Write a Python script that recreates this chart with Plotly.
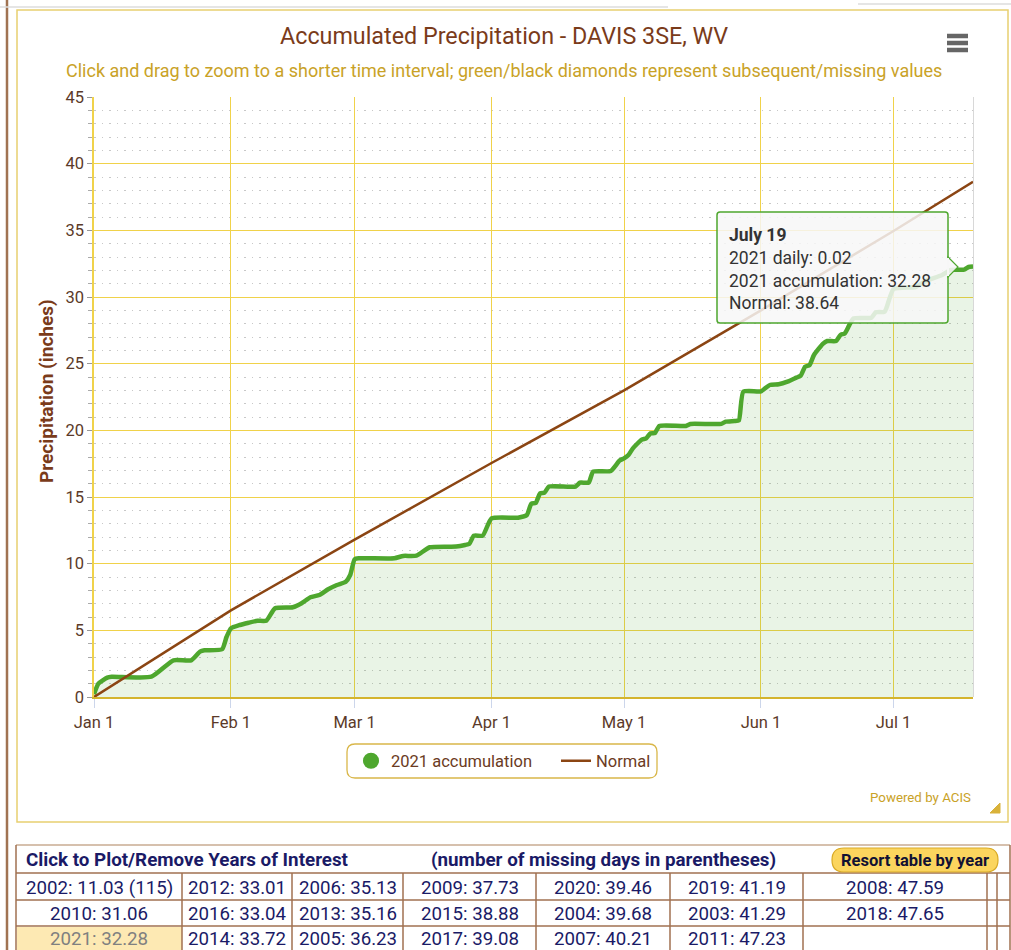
import plotly.graph_objects as go

W, H = 1011, 950

# 2021 accumulation (inches) at its break points
acc_dates = [
    "2021-01-01", "2021-01-02", "2021-01-04", "2021-01-05", "2021-01-14", "2021-01-19",
    "2021-01-23", "2021-01-25", "2021-01-26", "2021-01-30", "2021-01-31", "2021-02-01",
    "2021-02-03", "2021-02-05", "2021-02-07", "2021-02-09", "2021-02-11", "2021-02-15",
    "2021-02-17", "2021-02-19", "2021-02-21", "2021-02-23", "2021-02-25", "2021-02-27",
    "2021-02-28", "2021-03-01", "2021-03-02", "2021-03-10", "2021-03-12", "2021-03-15",
    "2021-03-18", "2021-03-24", "2021-03-26", "2021-03-27", "2021-03-28", "2021-03-30",
    "2021-04-01", "2021-04-07", "2021-04-09", "2021-04-10", "2021-04-11", "2021-04-12",
    "2021-04-13", "2021-04-14", "2021-04-20", "2021-04-21", "2021-04-23", "2021-04-24",
    "2021-04-28", "2021-04-30", "2021-05-01", "2021-05-02", "2021-05-03", "2021-05-05",
    "2021-05-06", "2021-05-07", "2021-05-08", "2021-05-09", "2021-05-15", "2021-05-16",
    "2021-05-23", "2021-05-24", "2021-05-26", "2021-05-27", "2021-05-28", "2021-06-01",
    "2021-06-03", "2021-06-05", "2021-06-07", "2021-06-09", "2021-06-10", "2021-06-11",
    "2021-06-12", "2021-06-13", "2021-06-15", "2021-06-16", "2021-06-18", "2021-06-19",
    "2021-06-20", "2021-06-21", "2021-06-22", "2021-06-26", "2021-06-27", "2021-06-29",
    "2021-07-01", "2021-07-06", "2021-07-08", "2021-07-12", "2021-07-14", "2021-07-17",
    "2021-07-18", "2021-07-19",
]
acc_values = [
    0.20, 1.00, 1.45, 1.52, 1.52, 2.75,
    2.75, 3.40, 3.50, 3.58, 4.50, 5.15,
    5.40, 5.57, 5.72, 5.72, 6.65, 6.73,
    7.03, 7.48, 7.65, 8.08, 8.40, 8.65,
    9.15, 10.33, 10.40, 10.40, 10.58, 10.60,
    11.23, 11.28, 11.40, 11.50, 12.10, 12.10,
    13.40, 13.45, 13.65, 14.50, 14.55, 15.28,
    15.33, 15.78, 15.78, 16.08, 16.08, 16.90,
    16.95, 17.73, 17.90, 18.15, 18.65, 19.30,
    19.40, 19.78, 19.80, 20.33, 20.33, 20.48,
    20.48, 20.65, 20.70, 20.75, 22.90, 22.93,
    23.40, 23.45, 23.65, 23.95, 24.10, 24.78,
    24.90, 25.65, 26.48, 26.70, 26.70, 27.15,
    27.28, 27.90, 28.40, 28.45, 28.85, 28.90,
    30.60, 30.75, 31.15, 31.65, 32.03, 32.05,
    32.25, 32.28,
]

# normal accumulation (inches)
normal_dates = ["2021-01-01", "2021-02-01", "2021-03-01", "2021-04-01",
                "2021-05-01", "2021-06-01", "2021-07-01", "2021-07-19"]
normal_values = [0.0, 6.50, 11.80, 17.55, 23.00, 29.00, 34.95, 38.64]

month_ticks = ["2021-01-01", "2021-02-01", "2021-03-01", "2021-04-01",
               "2021-05-01", "2021-06-01", "2021-07-01"]
month_labels = ["Jan 1", "Feb 1", "Mar 1", "Apr 1", "May 1", "Jun 1", "Jul 1"]

# table of Jan 1 - Jul 19 totals, sorted by value
rank_years = [2002, 2010, 2021, 2012, 2016, 2014, 2006, 2013, 2005, 2009,
              2015, 2017, 2020, 2004, 2007, 2019, 2003, 2011, 2008, 2018]
rank_totals = [11.03, 31.06, 32.28, 33.01, 33.04, 33.72, 35.13, 35.16, 36.23, 37.73,
               38.88, 39.08, 39.46, 39.68, 40.21, 41.19, 41.29, 47.23, 47.59, 47.65]
missing_days = {2002: 115}

GREEN = "#4ea72e"
BROWN = "#8b4513"
GOLD = "#f0d24a"
NAVY = "#1a1a66"
TXT = "#5b3a29"


def px(x):
    return x / W


def py(y):
    return 1 - y / H


def rounded_rect(x0, y0, x1, y1, r):
    """SVG path of a rounded rectangle, given in page pixels, returned in paper coords."""
    pts = [
        ("M", x0 + r, y0), ("L", x1 - r, y0), ("Q", x1, y0, x1, y0 + r),
        ("L", x1, y1 - r), ("Q", x1, y1, x1 - r, y1), ("L", x0 + r, y1),
        ("Q", x0, y1, x0, y1 - r), ("L", x0, y0 + r), ("Q", x0, y0, x0 + r, y0),
    ]
    parts = []
    for p in pts:
        cmd, coords = p[0], p[1:]
        xy = []
        for i in range(0, len(coords), 2):
            xy.append(f"{px(coords[i]):.5f},{py(coords[i + 1]):.5f}")
        parts.append(cmd + " " + " ".join(xy))
    return " ".join(parts) + " Z"


def note(x, y, text, size, color, xanchor="center", **kw):
    return dict(xref="paper", yref="paper", x=px(x), y=py(y), xanchor=xanchor, yanchor="middle",
                showarrow=False, text=text, font=dict(size=size, color=color), **kw)


fig = go.Figure()

fig.add_trace(go.Scatter(
    x=acc_dates, y=acc_values, mode="lines", name="2021 accumulation",
    line=dict(color=GREEN, width=4.5, shape="spline", smoothing=0.5),
    fill="tozeroy", fillcolor="rgba(78,167,46,0.12)", showlegend=False,
))
fig.add_trace(go.Scatter(
    x=[None], y=[None], mode="markers", name="2021 accumulation",
    marker=dict(color=GREEN, size=16), legendrank=1,
))
fig.add_trace(go.Scatter(
    x=normal_dates, y=normal_values, mode="lines", name="Normal",
    line=dict(color=BROWN, width=2.5), legendrank=2,
))

shapes = []
annotations = []

# page / chart container frame
shapes.append(dict(type="line", xref="paper", yref="paper", x0=px(7), x1=px(7), y0=py(0), y1=py(950),
                   line=dict(color="#a07352", width=2.5)))
shapes.append(dict(type="line", xref="paper", yref="paper", x0=px(0), x1=px(668), y0=py(7), y1=py(7),
                   line=dict(color="#dddddd", width=1.5)))
shapes.append(dict(type="line", xref="paper", yref="paper", x0=px(858), x1=px(1011), y0=py(4), y1=py(4),
                   line=dict(color="#dddddd", width=1.5)))
shapes.append(dict(type="rect", xref="paper", yref="paper", x0=px(17), x1=px(1008), y0=py(10), y1=py(822),
                   line=dict(color="#e8d070", width=1.5), layer="below"))
# right edge of plot area
shapes.append(dict(type="line", xref="paper", yref="paper", x0=px(973.5), x1=px(973.5), y0=py(97), y1=py(697),
                   line=dict(color="#d8d8d8", width=1)))

# menu icon
for yy in (36, 43, 50):
    shapes.append(dict(type="line", xref="paper", yref="paper", x0=px(947), x1=px(968), y0=py(yy), y1=py(yy),
                       line=dict(color="#666666", width=4.5)))

# legend frame (rounded)
shapes.append(dict(type="path", xref="paper", yref="paper", path=rounded_rect(347, 744, 657, 778, 8),
                   line=dict(color="#d9b74a", width=1.3), fillcolor="white", layer="below"))

# tooltip box + pointer
shapes.append(dict(type="path", xref="paper", yref="paper", path=rounded_rect(717, 212, 948, 323, 3),
                   fillcolor="rgba(247,247,247,0.85)", line=dict(color=GREEN, width=1.5)))
shapes.append(dict(type="path", xref="paper", yref="paper",
                   path=f"M {px(948)} {py(257)} L {px(958)} {py(267)} L {px(948)} {py(277)} Z",
                   fillcolor="rgba(247,247,247,0.9)", line=dict(color=GREEN, width=1.2)))
shapes.append(dict(type="line", xref="paper", yref="paper", x0=px(948), x1=px(948), y0=py(258), y1=py(276),
                   line=dict(color="rgba(247,247,247,1)", width=2)))
annotations.append(dict(
    xref="paper", yref="paper", x=px(727), y=py(223), xanchor="left", yanchor="top", align="left",
    showarrow=False, font=dict(size=17.5, color="#333333"),
    text=f"<b>July 19</b><br>2021 daily: 0.02<br>2021 accumulation: {acc_values[-1]:.2f}"
         f"<br>Normal: {normal_values[-1]:.2f}",
))

# titles
annotations.append(note(504, 36, "Accumulated Precipitation - DAVIS 3SE, WV", 23.3, "#7a3b1a"))
annotations.append(note(504, 70, "Click and drag to zoom to a shorter time interval; "
                                 "green/black diamonds represent subsequent/missing values", 18, "#c9a227"))
annotations.append(note(46, 391, "<b>Precipitation (inches)</b>", 19, "#7a3b1a", textangle=-90))
annotations.append(note(973, 797, "Powered by ACIS", 13.3, "#c9a227", xanchor="right"))
shapes.append(dict(type="path", xref="paper", yref="paper",
                   path=f"M {px(990)} {py(813)} L {px(1000)} {py(803)} L {px(1000)} {py(813)} Z",
                   fillcolor="#d9b23a", line=dict(color="#d9b23a", width=1)))

# ---- years table ----
col_edges = [16, 182, 292, 403, 536, 670, 803, 987]
row_edges = [873, 900, 926, 950]
tbl_line = "#a07050"

# highlight the current year cell
cur = rank_years.index(2021)
c, r = divmod(cur, 3)
shapes.append(dict(type="rect", xref="paper", yref="paper", layer="below",
                   x0=px(col_edges[c] + 1), x1=px(col_edges[c + 1]), y0=py(row_edges[r] + 1), y1=py(row_edges[r + 1]),
                   fillcolor="#fde9b3", line=dict(width=0)))

for yy in (845, 873, 900, 926):
    shapes.append(dict(type="line", xref="paper", yref="paper", x0=px(16), x1=px(1010), y0=py(yy), y1=py(yy),
                       line=dict(color=tbl_line if yy != 845 else "#c9ab92", width=1.5)))
for xx in (16, 1010):
    shapes.append(dict(type="line", xref="paper", yref="paper", x0=px(xx), x1=px(xx), y0=py(845), y1=py(950),
                       line=dict(color=tbl_line, width=1.5)))
for xx in col_edges[1:] + [997]:
    shapes.append(dict(type="line", xref="paper", yref="paper", x0=px(xx), x1=px(xx), y0=py(873), y1=py(950),
                       line=dict(color=tbl_line, width=1.5)))

annotations.append(note(24, 860, "<b>Click to Plot/Remove Years of Interest</b>", 18.8, NAVY, xanchor="left"))
annotations.append(note(603, 860, "<b>(number of missing days in parentheses)</b>", 18.8, NAVY))
shapes.append(dict(type="path", xref="paper", yref="paper", path=rounded_rect(832, 848, 998, 872, 12),
                   fillcolor="#fbd55e", line=dict(color="#d9aa26", width=1.2)))
annotations.append(note(915, 860, "<b>Resort table by year</b>", 16.5, "#111133"))

for i, (yr, tot) in enumerate(zip(rank_years, rank_totals)):
    c, r = divmod(i, 3)
    label = f"{yr}: {tot:.2f}"
    if yr in missing_days:
        label += f" ({missing_days[yr]})"
    annotations.append(note((col_edges[c] + col_edges[c + 1]) / 2, (row_edges[r] + row_edges[r + 1]) / 2 + 1,
                            label, 18.7, "#808080" if yr == 2021 else NAVY))

fig.update_layout(
    width=W, height=H, autosize=False,
    margin=dict(l=0, r=0, t=0, b=0, autoexpand=False),
    paper_bgcolor="white", plot_bgcolor="white",
    font=dict(family="Roboto", color=TXT),
    hovermode=False,
    shapes=shapes, annotations=annotations,
    legend=dict(
        orientation="h", x=px(556), y=py(761), xanchor="center", yanchor="middle",
        borderwidth=0, bgcolor="rgba(0,0,0,0)", entrywidth=160,
        font=dict(size=16.5, color="#6b3b23"), itemsizing="trace",
    ),
    xaxis=dict(
        type="date", domain=[px(94), px(973)], range=["2021-01-01", "2021-07-19"],
        tickvals=month_ticks, ticktext=month_labels, automargin=False,
        showgrid=True, gridcolor=GOLD, gridwidth=1.2,
        ticks="outside", ticklen=9, tickcolor="#ccd6eb",
        showline=True, linecolor="#d4b42e", linewidth=1.5,
        tickfont=dict(size=16.5, color=TXT), zeroline=False,
    ),
    yaxis=dict(
        domain=[py(697), py(97)], range=[0, 45], dtick=5, automargin=False,
        showgrid=True, gridcolor=GOLD, gridwidth=1.2,
        ticks="outside", ticklen=5, tickcolor="#999999",
        showline=True, linecolor=GOLD, linewidth=1.5,
        tickfont=dict(size=16.5, color=TXT), zeroline=False,
        minor=dict(dtick=1, showgrid=True, gridcolor="#c8c8c8", griddash="1.5px,6px", gridwidth=1.2,
                   ticks="outside", ticklen=4, tickcolor="#aaaaaa"),
    ),
)

fig.write_html("out.html", config={"displayModeBar": False},
               post_script="document.body.style.margin='0';")
